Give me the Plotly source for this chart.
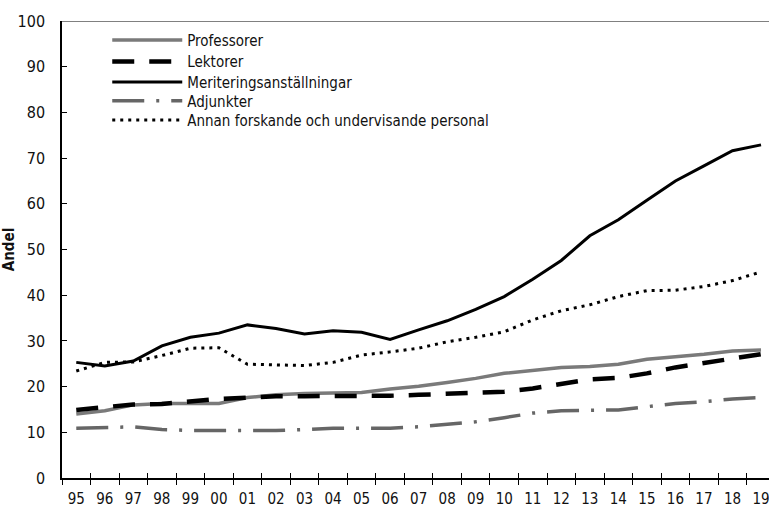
import plotly.graph_objects as go

years = ["95","96","97","98","99","00","01","02","03","04","05","06","07","08","09","10","11","12","13","14","15","16","17","18","19"]

professorer = [14.0,14.7,16.0,16.3,16.3,16.3,17.6,18.2,18.5,18.6,18.7,19.5,20.1,20.9,21.8,22.9,23.6,24.2,24.4,24.9,26.0,26.5,27.1,27.8,28.0]
lektorer = [14.9,15.6,16.1,16.2,16.8,17.3,17.6,17.9,17.9,17.9,17.9,18.0,18.2,18.4,18.5,18.9,19.6,20.7,21.6,21.9,22.9,24.2,25.2,26.2,27.1]
meritering = [25.3,24.5,25.6,28.9,30.8,31.7,33.5,32.7,31.5,32.2,31.9,30.3,32.4,34.4,36.9,39.7,43.5,47.6,53.0,56.5,60.8,65.0,68.3,71.6,72.9]
adjunkter = [10.9,11.0,11.2,10.6,10.4,10.4,10.4,10.4,10.6,10.9,10.9,10.9,11.2,11.8,12.3,13.2,14.2,14.7,14.8,14.9,15.6,16.3,16.7,17.3,17.6]
annan = [23.4,25.3,25.4,26.8,28.4,28.5,24.9,24.8,24.6,25.3,26.9,27.6,28.4,29.8,30.8,32.0,34.6,36.6,37.9,39.7,41.0,41.1,41.9,43.2,45.1]

names = ["Professorer","Lektorer","Meriteringsanställningar","Adjunkter","Annan forskande och undervisande personal"]

FONT = "Liberation Sans Narrow, DejaVu Sans Condensed, Arial Narrow, sans-serif"

styles = [
    dict(color="#7a7a7a", width=3.5),
    dict(color="#000000", width=4.5, dash="22px,15px"),
    dict(color="#000000", width=3),
    dict(color="#666666", width=3.5, dash="32px,12px,3px,12px"),
    dict(color="#000000", width=3, dash="3px,5px"),
]
series = [professorer, lektorer, meritering, adjunkter, annan]
legend_ids = ["legend", "legend2", "legend3", "legend4", "legend5"]
legend_y = [0.958, 0.911, 0.866, 0.825, 0.783]

fig = go.Figure()
for nm, vals, st, lid in zip(names, series, styles, legend_ids):
    fig.add_trace(go.Scatter(x=years, y=vals, name=nm, mode="lines", line=st,
                             legend=lid, showlegend=True))
# invisible helper trace for the inner half of the crossing x ticks
fig.add_trace(go.Scatter(x=years, y=professorer, xaxis="x2", mode="lines",
                         line=dict(width=0), opacity=0, showlegend=False, hoverinfo="skip"))

legend_common = dict(x=0.064, xanchor="left", yanchor="middle",
                     bgcolor="rgba(0,0,0,0)", borderwidth=0,
                     font=dict(family=FONT, size=15, color="#111111"),
                     itemwidth=70, tracegroupgap=0)
legends = {}
for lid, ly in zip(legend_ids, legend_y):
    d = dict(legend_common)
    d["y"] = ly
    legends[lid] = d

fig.update_layout(
    width=769, height=509,
    margin=dict(l=62, r=0, t=21, b=31),
    paper_bgcolor="white", plot_bgcolor="white",
    font=dict(family=FONT, size=16, color="#111111"),
    showlegend=True,
    xaxis=dict(type="category", range=[-0.5, 24.28], showgrid=False, zeroline=False,
               automargin=False,
               showline=True, linecolor="#000000", linewidth=1.5,
               ticks="outside", ticklen=5, tickcolor="#000000", tickwidth=1.2,
               tickson="boundaries", tickfont=dict(size=15), ticklabelstandoff=6,
               ticklabeloverflow="allow"),
    xaxis2=dict(type="category", overlaying="x", matches="x", anchor="y", side="bottom",
                automargin=False,
                showgrid=False, zeroline=False, showline=False, showticklabels=False,
                ticks="inside", ticklen=5, tickcolor="#000000", tickwidth=1.2,
                tickson="boundaries"),
    yaxis=dict(range=[0, 100], dtick=10, showgrid=False, zeroline=False,
               automargin=False,
               showline=True, linecolor="#000000", linewidth=1.5,
               ticks="inside", ticklen=5, tickcolor="#000000", tickwidth=1.2,
               tickfont=dict(size=16), ticklabelstandoff=12,
               title=dict(text="<b>Andel</b>", font=dict(size=15), standoff=3)),
    shapes=[dict(type="line", xref="paper", yref="y", x0=0, x1=1, y0=100, y1=100,
                 line=dict(color="#808080", width=2))],
    **legends,
)

fig.write_html("out.html", config={"displayModeBar": False},
               post_script="document.body.style.margin='0px';document.body.style.overflow='hidden';")
